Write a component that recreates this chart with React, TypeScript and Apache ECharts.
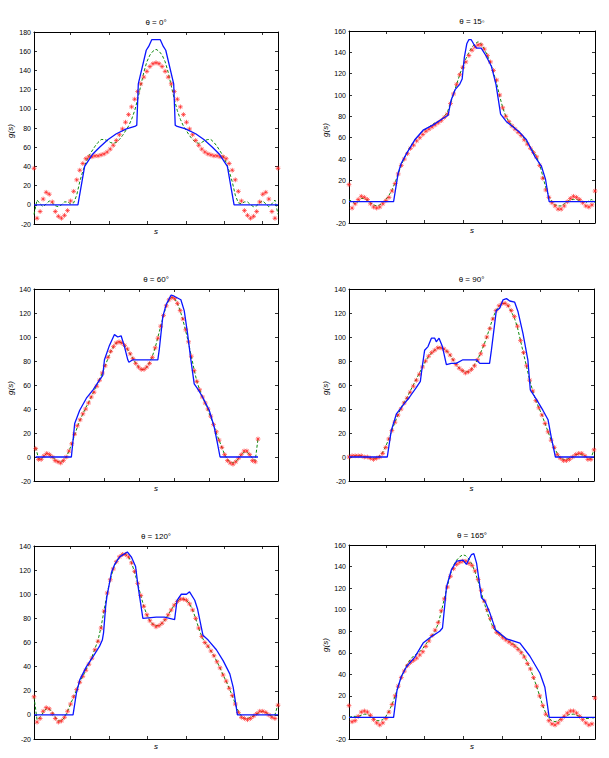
import React, { useEffect, useRef } from 'react';
import * as echarts from 'echarts';

// Projection angle of each panel
const thetaLabels = ['θ = 0°', 'θ = 15◦', 'θ = 60°', 'θ = 90°', 'θ = 120°', 'θ = 165°'];
const yTop = [180, 160, 140, 140, 140, 160];
const yBottom = -20;
const yStep = 20;
// sample positions of the s-axis ticks (no labels)
const sTicks = [11.97, 24.57, 37.17, 49.76, 62.36, 74.96];
const sRange = [[0, 80], [0, 80], [-0.6, 87.2], [0, 80], [0, 80], [0, 80]];

// ---- θ = 0° ----
const exact0 = [[0, 0], [14.4, 0], [16.6, 40], [19.3, 53], [21.5, 60], [24.3, 68], [27, 74], [30.3, 79], [33.3, 82], [33.7, 83], [34.2, 126], [36.8, 161], [37.6, 165], [38.6, 172], [41.4, 172], [42.4, 165], [43.2, 161], [45.8, 126], [46.3, 83], [46.7, 82], [49.7, 79], [53, 74], [55.7, 68], [58.5, 60], [60.7, 53], [63.4, 40], [65.6, 0], [80, 0]];
const filtered0 = [-10, 5, 1, -2, 1, 4, 2, -1, -2, 0, 3, 3, 1, 2, 10, 24, 35, 44, 51, 56, 61, 65, 68, 68, 67, 65, 64, 65, 68, 72, 77, 82, 89, 98, 110, 124, 138, 149, 156, 160, 162, 160, 156, 149, 138, 124, 110, 98, 89, 82, 77, 72, 68, 65, 64, 65, 67, 68, 68, 65, 61, 56, 51, 44, 35, 24, 10, 2, 1, 3, 3, 0, -2, -1, 2, 4, 1, -2, 1, 5, -10];
const recon0 = [38, -14, -7, 6, 13, 11, 3, -7, -12, -14, -11, -6, 4, 14, 26, 36, 43, 48, 50, 50, 51, 51, 52, 53, 55, 58, 62, 67, 73, 79, 86, 94, 102, 110, 118, 126, 133, 139, 144, 147, 148, 147, 144, 139, 133, 126, 118, 110, 102, 94, 86, 79, 73, 67, 62, 58, 55, 53, 52, 51, 51, 50, 50, 48, 43, 36, 26, 14, 4, -6, -11, -14, -12, -7, 3, 11, 13, 6, -7, -14, 38];

// ---- θ = 15° ----
const exact1 = [[0, 0], [14.5, 0], [16, 27], [17, 36], [18.7, 45], [21.4, 58], [24.1, 67], [27.4, 72], [30, 77], [32.2, 81], [33.2, 95], [34.5, 105], [36, 110], [36.8, 115], [37.5, 135], [38.3, 148], [39, 152], [39.7, 152], [40.5, 148], [41.5, 144], [43, 144], [44.5, 137], [46.3, 127], [47.8, 110], [49.3, 82], [51.2, 75], [53.4, 70], [55.5, 65], [57.7, 58], [60.5, 42], [62.6, 33], [63.9, 21], [65.1, 0], [80, 0]];
const filtered1 = [2, 0, -2, 0, 3, 3, 1, -1, -3, -4, -3, -1, 2, 6, 11, 18, 26, 34, 41, 47, 52, 56, 60, 63, 66, 68, 70, 72, 74, 75, 77, 80, 84, 92, 101, 110, 119, 127, 134, 140, 145, 148, 150, 148, 143, 137, 130, 121, 111, 99, 88, 80, 75, 72, 69, 66, 63, 59, 55, 51, 47, 42, 35, 24, 13, 5, 0, -3, -4, -4, -2, 0, 2, 2, 2, 1, 0, -1, 1, 2, -1];
const recon1 = [16, -6, -2, 2, 5, 4, 2, -2, -5, -6, -5, -2, 1, 4, 10, 17, 26, 34, 40, 45, 50, 53, 57, 60, 63, 66, 68, 70, 72, 74, 76, 79, 82, 92, 101, 110, 119, 126, 131, 137, 142, 145, 147, 147, 143, 137, 131, 123, 114, 100, 88, 80, 75, 71, 68, 65, 62, 58, 54, 50, 46, 42, 34, 22, 11, 4, -1, -4, -7, -7, -4, 0, 3, 5, 4, 2, -1, -4, -5, -3, 10];

// ---- θ = 60° ----
const exact2 = [[0, 0], [12.85, 0], [14.05, 28], [15.85, 39], [18.25, 49], [20.65, 56], [22.95, 64], [24.15, 68], [24.75, 81], [26.55, 93], [28.35, 102], [29.55, 100], [30.75, 101], [31.95, 92], [33.15, 81], [33.55, 79], [34.95, 81], [43.95, 81], [44.45, 89], [45.75, 117], [46.95, 127], [48.75, 135], [49.85, 134], [52.25, 131], [53.45, 122], [54.65, 103], [55.85, 81], [57.05, 61], [58.25, 57], [60.05, 50], [62.45, 39], [64.25, 25], [65.45, 11], [66.35, 0], [80, 0]];
const filtered2 = [8, -1, -2, 1, 3, 2, 0, -2, -4, -4, -3, 0, 5, 11, 18, 25, 31, 36, 41, 45, 50, 55, 60, 65, 70, 76, 82, 88, 92, 95, 96, 95, 93, 90, 86, 82, 78, 75, 73, 73, 75, 79, 84, 91, 100, 109, 118, 126, 131, 133, 132, 128, 122, 114, 105, 95, 84, 73, 63, 56, 50, 45, 39, 33, 27, 20, 14, 8, 2, -2, -4, -5, -4, -1, 2, 4, 4, 2, -1, -3, 15];
const recon2 = [7, -2, -2, 1, 3, 2, 0, -3, -4, -5, -3, 0, 5, 11, 19, 26, 31, 36, 40, 45, 50, 54, 59, 64, 70, 76, 83, 88, 92, 95, 96, 95, 93, 90, 86, 82, 78, 75, 73, 73, 75, 78, 83, 91, 99, 109, 118, 126, 131, 133, 132, 128, 122, 115, 106, 96, 84, 72, 63, 56, 50, 45, 40, 34, 27, 21, 14, 8, 2, -3, -5, -6, -4, -1, 2, 5, 5, 2, -3, -4, 15];

// ---- θ = 90° ----
const exact3 = [[0, 0], [12.5, 0], [13.8, 22], [15.5, 36], [17.6, 43], [19.8, 50], [22, 58], [23.3, 63], [23.9, 75], [24.7, 89], [25.8, 92], [26.9, 99], [28, 99], [28.5, 96], [29.4, 99], [30.5, 92], [31.8, 77], [33.4, 78], [35, 78], [37.2, 81], [41.6, 81], [42.7, 78], [45.9, 78], [46.5, 89], [48.1, 122], [49.2, 124], [50.3, 131], [51.4, 132], [52.5, 130], [54.1, 129], [55.2, 121], [56.8, 103], [58.4, 81], [59.2, 56], [61.2, 48], [63.3, 39], [65, 31], [66, 17], [67.4, 0], [80, 0]];
const filtered3 = [0, 0, 1, 1, 1, 0, 0, -1, -1, -1, 1, 4, 9, 15, 22, 29, 35, 41, 46, 50, 55, 60, 65, 70, 75, 80, 84, 87, 89, 91, 91, 90, 88, 85, 81, 77, 74, 72, 71, 71, 73, 77, 81, 87, 93, 100, 108, 116, 122, 126, 128, 128, 126, 121, 116, 108, 97, 86, 75, 64, 55, 47, 41, 35, 28, 21, 14, 8, 3, -1, -2, -2, -1, 0, 2, 2, 2, 1, -1, -1, 6];
const recon3 = [0, 1, 1, 1, 1, 0, 0, -1, -2, -1, 0, 3, 8, 15, 22, 29, 35, 40, 45, 49, 54, 59, 64, 69, 75, 80, 84, 87, 89, 91, 91, 90, 88, 85, 81, 77, 74, 72, 70, 71, 73, 76, 81, 86, 93, 100, 107, 115, 122, 126, 128, 128, 126, 122, 117, 109, 97, 87, 76, 64, 55, 47, 41, 35, 28, 21, 14, 8, 2, -1, -3, -3, -2, 0, 2, 3, 3, 1, -2, -2, 6];

// ---- θ = 120° ----
const exact4 = [[0, 0], [12.8, 0], [13.9, 18], [15, 29], [17.2, 40], [19.3, 48], [21.5, 57], [22.4, 62], [22.8, 68], [23.5, 90], [23.9, 98], [25.4, 118], [26.5, 125], [28.1, 131], [30.6, 135], [31.9, 131], [33.3, 123], [34.1, 107], [35.7, 80], [40.1, 81], [42.8, 81], [46.1, 79], [46.9, 95], [48.3, 100], [50, 100], [51, 102], [52.7, 95], [53.6, 88], [55.4, 66], [57.1, 62], [59.8, 54], [62, 45], [64.2, 34], [65.3, 23], [66.7, 0], [80, 0]];
const filtered4 = [15, -4, -2, 2, 5, 5, 2, -2, -5, -5, -2, 3, 9, 15, 21, 27, 32, 37, 42, 48, 55, 62, 73, 87, 101, 112, 121, 127, 131, 133, 133, 131, 126, 118, 109, 99, 90, 83, 78, 75, 74, 74, 76, 79, 83, 87, 91, 94, 96, 96, 95, 92, 87, 80, 72, 65, 60, 57, 53, 49, 44, 39, 33, 28, 22, 16, 9, 3, -1, -3, -3, -2, -1, 1, 2, 3, 2, 0, -1, 0, 9];
const recon4 = [15, -6, -3, 3, 6, 5, 1, -3, -6, -5, -2, 3, 9, 15, 21, 27, 32, 37, 42, 47, 54, 61, 72, 86, 101, 112, 121, 127, 131, 133, 133, 131, 126, 119, 109, 99, 90, 83, 78, 75, 73, 74, 76, 79, 83, 87, 91, 94, 96, 96, 95, 92, 87, 80, 72, 65, 60, 57, 53, 49, 44, 39, 33, 28, 22, 16, 9, 2, -2, -3, -4, -3, -1, 1, 3, 3, 2, 0, -2, -3, 8];

// ---- θ = 165° ----
const exact5 = [[0, 0], [14.5, 0], [15.6, 25], [17, 38], [18.7, 47], [21.4, 56], [24.1, 69], [26.8, 75], [29.5, 80], [30.4, 83], [31, 100], [31.7, 121], [33.3, 137], [35, 145], [37.1, 146], [38.2, 142], [39, 147], [39.8, 151], [40.6, 152], [41.5, 143], [42.6, 121], [43.1, 111], [44.2, 108], [45.8, 97], [47.7, 81], [49.1, 78], [51.2, 73], [55.6, 69], [58.8, 57], [62.1, 41], [63.7, 28], [65.1, 0], [80, 0]];
const filtered5 = [0, 1, 1, 1, 2, 3, 3, 1, -1, -3, -3, -2, 1, 6, 12, 20, 29, 37, 44, 50, 54, 57, 59, 61, 64, 68, 72, 76, 80, 87, 98, 110, 122, 133, 141, 146, 149, 151, 150, 147, 142, 135, 126, 116, 106, 97, 89, 83, 79, 77, 75, 73, 71, 69, 67, 64, 61, 57, 51, 45, 37, 29, 20, 11, 4, -1, -3, -4, -3, -1, 1, 2, 3, 3, 2, 1, 0, -1, -1, 0, -2];
const recon5 = [11, -4, -3, 1, 5, 6, 5, 2, -2, -5, -7, -5, -1, 5, 12, 20, 29, 37, 43, 48, 51, 53, 55, 58, 61, 66, 71, 76, 81, 88, 99, 110, 121, 131, 138, 142, 144, 145, 145, 143, 141, 136, 128, 118, 108, 100, 92, 84, 79, 77, 74, 72, 70, 68, 66, 63, 60, 56, 50, 45, 37, 29, 20, 11, 3, -3, -6, -7, -5, -2, 1, 4, 6, 6, 4, 1, -2, -5, -7, -6, 18];

const exactSets = [exact0, exact1, exact2, exact3, exact4, exact5];
const filteredSets = [filtered0, filtered1, filtered2, filtered3, filtered4, filtered5];
const reconSets = [recon0, recon1, recon2, recon3, recon4, recon5];

// Plot boxes of the 3x2 panel layout
const frames = [
  { left: 34, top: 32, width: 244, height: 192 },
  { left: 349, top: 31, width: 246, height: 192 },
  { left: 34, top: 289, width: 244, height: 192 },
  { left: 349, top: 289, width: 245, height: 192 },
  { left: 34, top: 546, width: 244, height: 193 },
  { left: 349, top: 545, width: 246, height: 194 },
];
const showYName = [true, true, true, true, false, true];

const FONT = 'Liberation Sans, Arial, Helvetica, DejaVu Sans, sans-serif';
const BLUE = '#0a14ff';
const GREEN = '#0d8a0d';
const RED = '#ff2020';
const ASTERISK = 'path://M0,5L10,5M5,0L5,10M1.5,1.5L8.5,8.5M8.5,1.5L1.5,8.5';

function buildOption() {
  const grid: any[] = [];
  const xAxis: any[] = [];
  const yAxis: any[] = [];
  const series: any[] = [];
  const graphic: any[] = [];

  const tickStyle = { show: true, inside: true, length: 3, lineStyle: { color: '#000', width: 0.8 } };
  const lineStyle = { show: true, onZero: false, lineStyle: { color: '#000', width: 1 } };

  frames.forEach((f, k) => {
    grid.push({ left: f.left, top: f.top, width: f.width, height: f.height, containLabel: false });
    const [sMin, sMax] = sRange[k];
    ['bottom', 'top'].forEach((pos) => {
      xAxis.push({
        type: 'value', gridIndex: k, position: pos, min: sMin, max: sMax,
        axisLine: lineStyle,
        axisTick: { ...tickStyle, customValues: sTicks },
        axisLabel: { show: false },
        splitLine: { show: false },
      });
    });
    ['left', 'right'].forEach((pos) => {
      yAxis.push({
        type: 'value', gridIndex: k, position: pos, min: yBottom, max: yTop[k], interval: yStep,
        axisLine: lineStyle,
        axisTick: tickStyle,
        axisLabel: pos === 'left'
          ? { show: true, fontSize: 7, color: '#000', margin: 3, fontFamily: FONT }
          : { show: false },
        splitLine: { show: false },
      });
    });

    const xi = 2 * k;
    const yi = 2 * k;
    series.push({
      type: 'line', xAxisIndex: xi, yAxisIndex: yi, z: 2,
      data: filteredSets[k].map((v, i) => [i, v]),
      showSymbol: false, silent: true,
      lineStyle: { color: GREEN, width: 1, type: [3, 2] },
    });
    series.push({
      type: 'scatter', xAxisIndex: xi, yAxisIndex: yi, z: 3,
      data: reconSets[k].map((v, i) => [i, v]),
      symbol: ASTERISK, symbolSize: 4.8, silent: true,
      itemStyle: { color: 'none', borderColor: RED, borderWidth: 0.75, opacity: 0.85 },
    });
    series.push({
      type: 'line', xAxisIndex: xi, yAxisIndex: yi, z: 4,
      data: exactSets[k],
      showSymbol: false, silent: true,
      lineStyle: { color: BLUE, width: 1.3 },
    });

    const cx = f.left + f.width / 2;
    graphic.push({
      type: 'text', x: cx, y: f.top - 9.5, silent: true,
      style: { text: thetaLabels[k], fill: '#000', fontSize: 8, fontFamily: FONT, align: 'center', verticalAlign: 'middle' },
    });
    graphic.push({
      type: 'text', x: cx, y: f.top + f.height + 7, silent: true,
      style: { text: 's', fill: '#000', fontSize: 8, fontStyle: 'italic', fontFamily: FONT, align: 'center', verticalAlign: 'middle' },
    });
    if (showYName[k]) {
      graphic.push({
        type: 'text', x: f.left - 24, y: f.top + f.height / 2 + 3, rotation: Math.PI / 2, silent: true,
        style: { text: 'g(s)', fill: '#000', fontSize: 8, fontStyle: 'italic', fontFamily: FONT, align: 'center', verticalAlign: 'middle' },
      });
    }
  });

  return { animation: false, backgroundColor: '#fff', grid, xAxis, yAxis, series, graphic };
}

export default function App() {
  const ref = useRef<HTMLDivElement>(null);
  useEffect(() => {
    if (!ref.current) return;
    const chart = echarts.init(ref.current, undefined, { renderer: 'svg' });
    chart.setOption(buildOption() as any);
    return () => chart.dispose();
  }, []);
  return (
    <div
      ref={ref}
      style={{ position: 'absolute', left: 0, top: 0, width: 609, height: 758, background: '#fff' }}
    />
  );
}
